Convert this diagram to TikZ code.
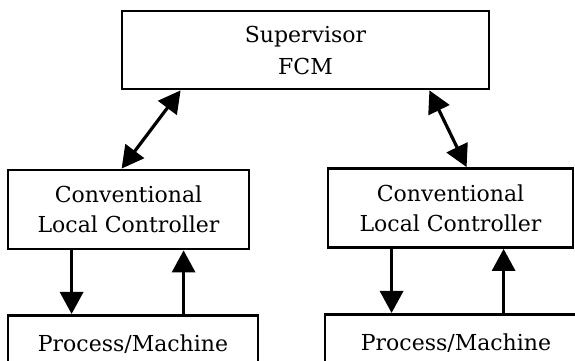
\documentclass[tikz,border=0pt]{standalone}
\usepackage{fontspec}
\setmainfont{DejaVu Serif}
\usetikzlibrary{arrows.meta}

\begin{document}
\begin{tikzpicture}[x=1pt,y=1pt,
  >={Triangle[length=22pt,width=23pt]},
  box/.style={draw,line width=2.8pt,align=center,inner sep=0pt,
    font=\fontsize{22}{30}\selectfont},
  proc/.style={box,anchor=north,text height=16pt,text depth=20pt,inner ysep=20pt},
  flow/.style={line width=3.2pt}]
\useasboundingbox (0,0) rectangle (575,361);
\clip (0,0) rectangle (575,361);
\node[box,minimum width=367pt,minimum height=78pt] (sup) at (305.5,311) {Supervisor\\[2pt]FCM};
\node[box,minimum width=241pt,minimum height=79pt] (lc1) at (128.5,151.5) {Conventional\\Local Controller};
\node[box,minimum width=245pt,minimum height=79pt] (lc2) at (450.5,153) {Conventional\\Local Controller};
\node[proc,minimum width=250pt] (pm1) at (133,47) {Process/Machine};
\node[proc,minimum width=262pt] (pm2) at (456,48) {Process/Machine};
\path[<->,flow]
([xshift=60pt]sup.south west) edge ([xshift=115pt]lc1.north west)
([xshift=-61pt]sup.south east) edge ([xshift=140pt]lc2.north west);
\path[->,flow]
([xshift=65pt]lc1.south west) edge ([xshift=65pt]lc1.south west |- pm1.north)
([xshift=177pt]lc1.south west |- pm1.north) edge ([xshift=177pt]lc1.south west)
([xshift=65pt]lc2.south west) edge ([xshift=65pt]lc2.south west |- pm2.north)
([xshift=177pt]lc2.south west |- pm2.north) edge ([xshift=177pt]lc2.south west);
%\path[->,flow] (lc1) edge (lc2);
\end{tikzpicture}
\end{document}
